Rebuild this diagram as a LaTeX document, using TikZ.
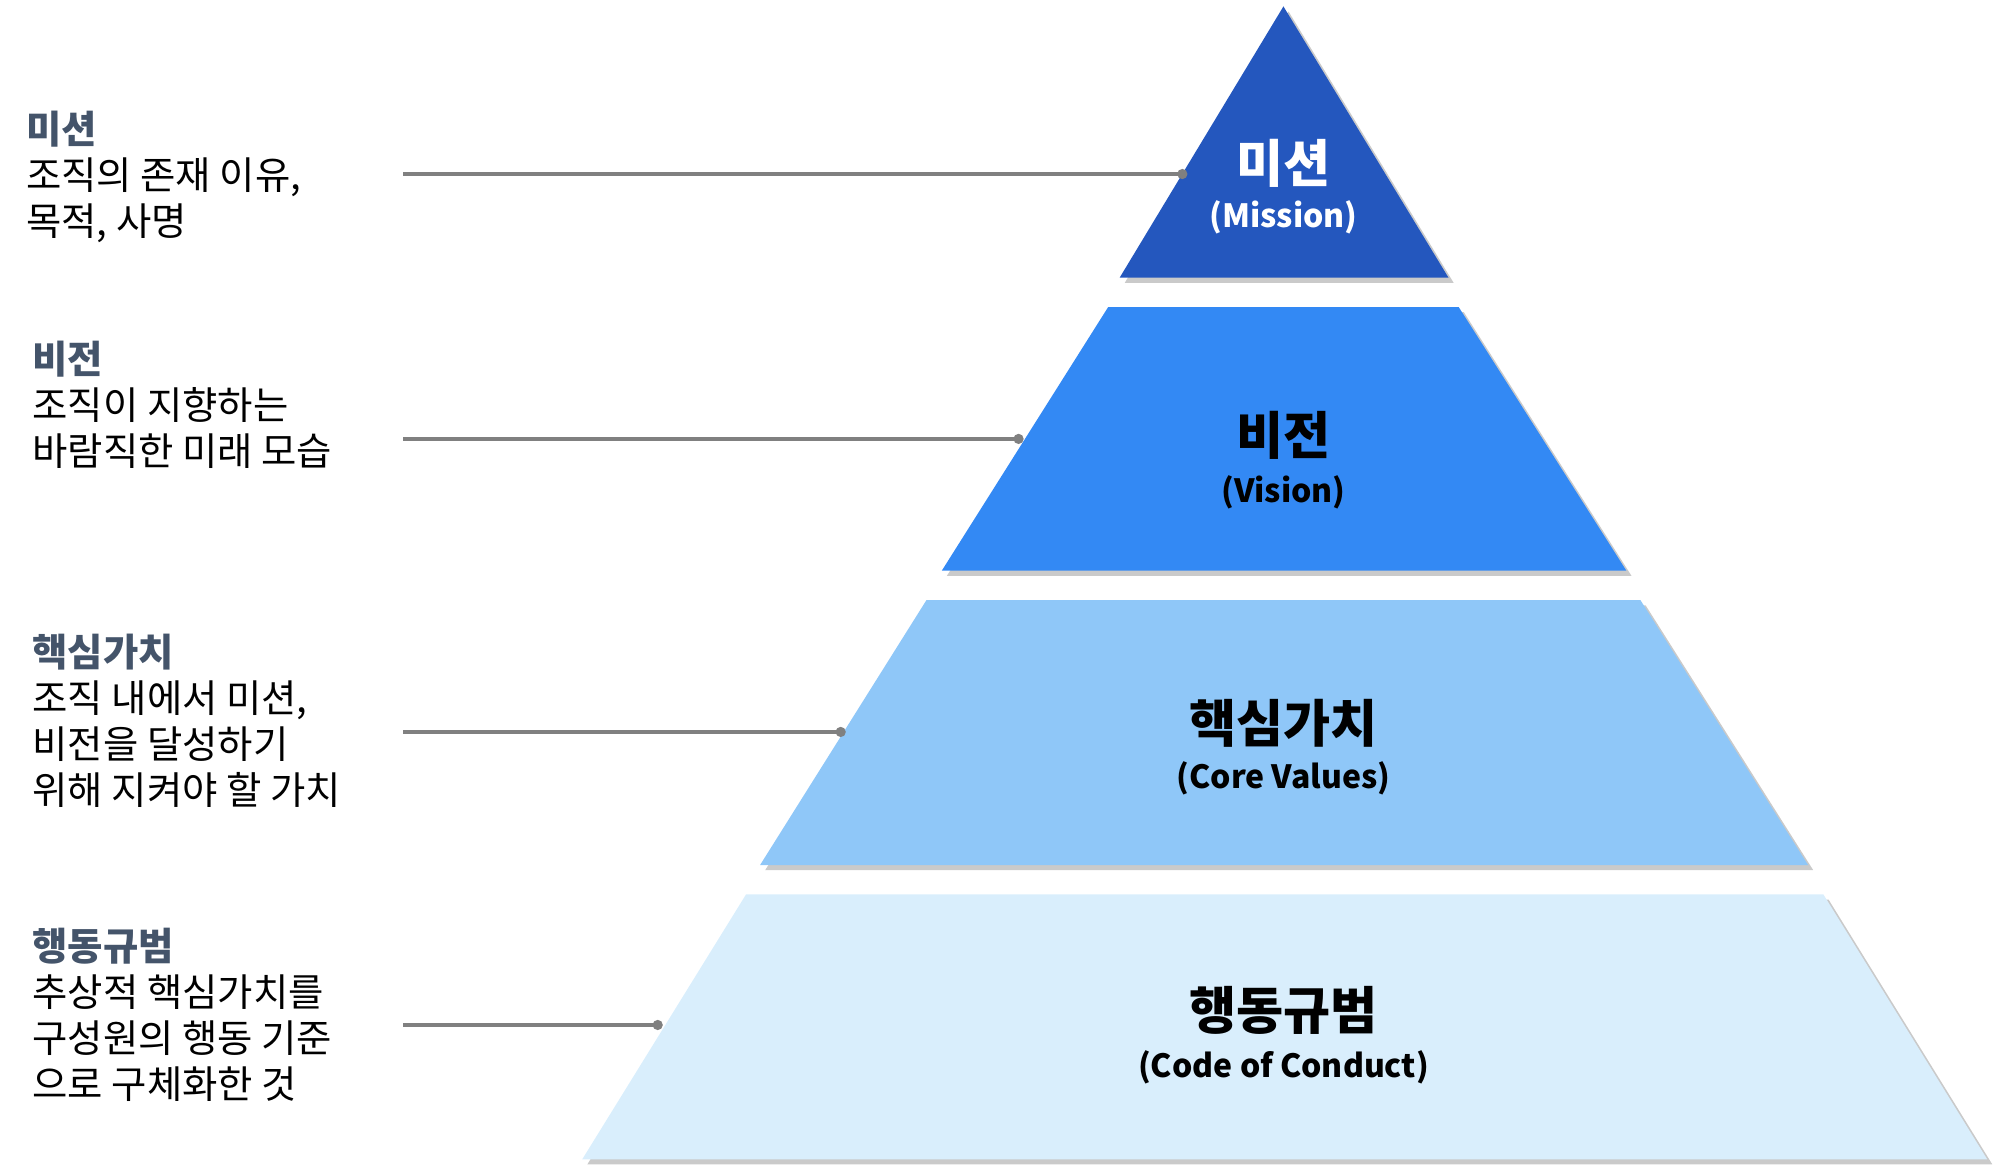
\documentclass[tikz,border=0pt]{standalone}
\usepackage{fontspec}
\setmainfont{Noto Sans CJK KR}
\usetikzlibrary{shadows}
\definecolor{cA}{HTML}{2457BE}
\definecolor{cB}{HTML}{3389F4}
\definecolor{cC}{HTML}{8FC7F8}
\definecolor{cD}{HTML}{D9EEFC}
\definecolor{hd}{HTML}{44546A}
\begin{document}
\begin{tikzpicture}[x=0.5pt,y=-0.5pt,
  lvl/.style={fill=#1, draw=none, drop shadow={shadow xshift=2pt,shadow yshift=-2pt,opacity=0.35,fill=black!60}},
  lead/.style={draw=black!50, line width=1.4pt},
  dot/.style={circle, fill=black!50, inner sep=0pt, minimum size=4pt},
  side/.style={anchor=north west, align=left, font=\fontsize{15}{18}\selectfont, inner sep=0pt},
  ktitle/.style={font=\fontsize{20}{24}\selectfont\bfseries, inner sep=0pt},
  etitle/.style={font=\fontsize{12.5}{15}\selectfont\bfseries, inner sep=0pt}]
\useasboundingbox (0,0) rectangle (1563,917);
\fill[lvl=cA] (1003,5) -- (1132,217) -- (875,217) -- cycle;
\fill[lvl=cB] (866,240) -- (1140,240) -- (1271,446) -- (736,446) -- cycle;
\fill[lvl=cC] (724,469) -- (1282,469) -- (1413,676) -- (594,676) -- cycle;
\fill[lvl=cD] (583,699) -- (1425,699) -- (1553,906) -- (455,906) -- cycle;
\node[ktitle, text=white] (m1) at (1003,128) {미션};
\node[etitle, text=white] (m2) at (1003,170) {(Mission)};
\node[ktitle] (v1) at (1003,340) {비전};
\node[etitle] (v2) at (1003,385) {(Vision)};
\node[ktitle] (c1) at (1003,565) {핵심가치};
\node[etitle] (c2) at (1003,608) {(Core Values)};
\node[ktitle] (d1) at (1003,790) {행동규범};
\node[etitle] (d2) at (1003,834) {(Code of Conduct)};
\node[side] (lm) at (20,86) {\textcolor{hd}{\bfseries 미션}\\조직의 존재 이유,\\목적, 사명};
\node[side] (lv) at (25,266) {\textcolor{hd}{\bfseries 비전}\\조직이 지향하는\\바람직한 미래 모습};
\node[side] (lc) at (25,495) {\textcolor{hd}{\bfseries 핵심가치}\\조직 내에서 미션,\\비전을 달성하기\\위해 지켜야 할 가치};
\node[side] (ld) at (25,725) {\textcolor{hd}{\bfseries 행동규범}\\추상적 핵심가치를\\구성원의 행동 기준\\으로 구체화한 것};
\coordinate (sm) at (315,136); \node[dot] (em) at (924,136) {};
\coordinate (sv) at (315,343); \node[dot] (ev) at (796,343) {};
\coordinate (sc) at (315,572); \node[dot] (ec) at (657,572) {};
\coordinate (sd) at (315,801); \node[dot] (ed) at (514,801) {};
\draw[lead] (sm) -- (em.center);
\draw[lead] (sv) -- (ev.center);
\draw[lead] (sc) -- (ec.center);
\draw[lead] (sd) -- (ed.center);
\end{tikzpicture}
\end{document}
